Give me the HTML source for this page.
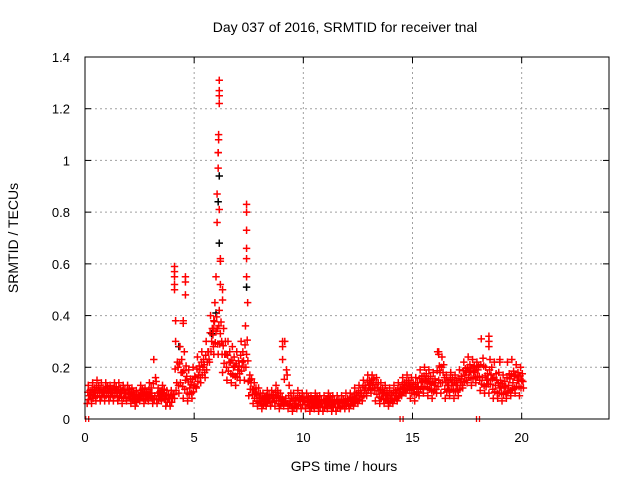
<!DOCTYPE html>
<html><head><meta charset="utf-8"><style>
body{margin:0;background:#fff;}
svg{display:block;font-family:"Liberation Sans",sans-serif;}
</style></head><body>
<svg id="chart" width="640" height="480">
<rect width="640" height="480" fill="#fff"/>
<text x="345" y="32" font-size="14" text-anchor="middle">Day 037 of 2016, SRMTID for receiver tnal</text>
<text x="344" y="471" font-size="14" text-anchor="middle">GPS time / hours</text>
<text transform="translate(18,238) rotate(-90)" font-size="14" text-anchor="middle">SRMTID / TECUs</text>
<g id="grid"></g>
<g id="ticks"></g>
<g id="marks"></g>
<rect x="85" y="57" width="524" height="362" fill="none" stroke="#000" stroke-width="1"/>
</svg>
<script>
const xTicks=[0,5,10,15,20];
const yTicks=[0,0.2,0.4,0.6,0.8,1,1.2,1.4];
const yTickLabels=["0","0.2","0.4","0.6","0.8","1","1.2","1.4"];
const bandMid=[0.09,0.10,0.11,0.10,0.11,0.10,0.11,0.10,0.10,0.10,
0.09,0.08,0.10,0.09,0.10,0.09,0.09,0.10,0.08,0.08,
0.14,0.18,0.15,0.12,0.13,0.17,0.20,0.22,0.30,0.34,
0.33,0.25,0.22,0.20,0.19,0.22,0.25,0.14,0.10,0.08,
0.07,0.08,0.08,0.09,0.07,0.08,0.07,0.06,0.07,0.07,
0.07,0.06,0.07,0.06,0.06,0.07,0.06,0.06,0.06,0.06,
0.07,0.08,0.09,0.11,0.13,0.14,0.12,0.10,0.09,0.08,
0.09,0.10,0.12,0.13,0.12,0.12,0.14,0.15,0.14,0.13,
0.15,0.18,0.13,0.14,0.13,0.14,0.17,0.18,0.18,0.19,
0.16,0.15,0.17,0.13,0.12,0.12,0.13,0.14,0.15,0.15];
const bandLo=[0.06,0.06,0.07,0.07,0.07,0.07,0.07,0.07,0.06,0.07,
0.06,0.05,0.07,0.06,0.07,0.06,0.06,0.07,0.05,0.05,
0.08,0.10,0.08,0.07,0.08,0.12,0.14,0.16,0.22,0.25,
0.25,0.18,0.15,0.14,0.13,0.15,0.15,0.09,0.06,0.05,
0.04,0.05,0.05,0.05,0.04,0.05,0.04,0.03,0.04,0.04,
0.04,0.03,0.04,0.03,0.03,0.04,0.03,0.03,0.04,0.04,
0.04,0.05,0.06,0.07,0.09,0.10,0.07,0.06,0.06,0.05,
0.06,0.07,0.09,0.10,0.08,0.07,0.09,0.10,0.09,0.08,
0.10,0.10,0.08,0.09,0.08,0.09,0.12,0.14,0.13,0.14,
0.11,0.10,0.10,0.08,0.08,0.07,0.08,0.09,0.10,0.09];
const bandHi=[0.13,0.14,0.15,0.14,0.14,0.13,0.14,0.14,0.13,0.13,
0.12,0.11,0.13,0.12,0.14,0.23,0.12,0.13,0.11,0.11,
0.30,0.28,0.26,0.19,0.20,0.24,0.26,0.30,0.40,0.45,
0.42,0.35,0.30,0.28,0.26,0.30,0.36,0.17,0.14,0.12,
0.10,0.11,0.11,0.13,0.10,0.30,0.13,0.10,0.11,0.10,
0.10,0.09,0.10,0.09,0.09,0.10,0.09,0.09,0.09,0.10,
0.10,0.12,0.13,0.15,0.17,0.17,0.16,0.14,0.13,0.12,
0.13,0.14,0.16,0.17,0.16,0.16,0.19,0.20,0.19,0.18,
0.26,0.24,0.17,0.18,0.17,0.19,0.22,0.24,0.23,0.22,
0.31,0.20,0.23,0.22,0.18,0.17,0.22,0.23,0.21,0.20];
const spikeTimes=[4.1,4.1,4.1,4.1,4.1,4.15,4.5,4.5,4.6,4.6,4.6,5.9,5.9,6.0,6.05,6.05,6.1,6.1,6.1,6.12,6.12,6.15,6.15,6.15,6.15,6.15,6.2,6.2,6.2,6.3,6.3,7.4,7.4,7.4,7.4,7.4,7.4,7.45,9.05,9.05,9.05,16.2,16.2,18.5,18.5,18.5,19.0,19.0];
const spikeValues=[0.59,0.57,0.55,0.52,0.50,0.38,0.38,0.37,0.55,0.53,0.48,0.38,0.35,0.55,0.76,0.87,1.03,1.03,0.97,1.10,1.08,1.31,1.27,1.25,1.22,0.81,0.62,0.61,0.52,0.50,0.46,0.83,0.80,0.73,0.66,0.62,0.55,0.45,0.30,0.28,0.23,0.26,0.25,0.32,0.30,0.28,0.23,0.22];
const zeroTimes=[0.1,14.5,18.0];
const blackTimes=[6.1,6.15,6.15,7.4,6.0,5.8,4.3];
const blackValues=[0.84,0.68,0.94,0.51,0.41,0.33,0.28];

const X=t=>85+t*(524/24);
const Y=v=>419-v*(362/1.4);
const NS="http://www.w3.org/2000/svg";
const grid=document.getElementById('grid'),ticks=document.getElementById('ticks'),marks=document.getElementById('marks');
function mk(tag,attrs,parent){const e=document.createElementNS(NS,tag);for(const k in attrs)e.setAttribute(k,attrs[k]);parent.appendChild(e);return e;}
xTicks.forEach(t=>{
  const x=X(t);
  if(t>0){const g=mk('line',{x1:x,x2:x,y1:57,y2:419,stroke:'#a0a0a0','stroke-dasharray':'2,3'},grid);
  
  }
  mk('line',{x1:x,x2:x,y1:419,y2:413,stroke:'#000'},ticks);
  mk('line',{x1:x,x2:x,y1:57,y2:63,stroke:'#000'},ticks);
  const l=mk('text',{x:x,y:442,'font-size':13,'text-anchor':'middle'},ticks);l.textContent=t;
  
  
});
yTicks.forEach((v,i)=>{
  const y=Y(v);
  if(v>0&&v<1.4){const g=mk('line',{x1:85,x2:609,y1:y,y2:y,stroke:'#a0a0a0','stroke-dasharray':'2,3'},grid);
  
  }
  mk('line',{x1:85,x2:91,y1:y,y2:y,stroke:'#000'},ticks);
  mk('line',{x1:609,x2:603,y1:y,y2:y,stroke:'#000'},ticks);
  const l=mk('text',{x:70,y:y+5,'font-size':13,'text-anchor':'end'},ticks);l.textContent=yTickLabels[i];
  
  
});
function plus(t,v,color){
  const x=X(t),y=Y(v);
  const p=mk('path',{d:`M${x-3.7} ${y}h7.4M${x} ${y-3.7}v7.4`,stroke:color,'stroke-width':1.5,fill:'none'},marks);
  
  
}
blackTimes.forEach((t,i)=>plus(t,blackValues[i],'#000'));
bandMid.forEach((v,i)=>{
  const t=0.1+i*0.2;
  const n=Math.min(i+1,bandMid.length-1);
  plus(t,bandLo[i],'#f00');
  plus(t+0.07,(bandLo[i]+bandMid[i])/2,'#f00');
  plus(t+0.1,bandMid[i],'#f00');
  plus(t+0.13,(bandMid[i]+bandHi[i])/2,'#f00');
  plus(t+0.05,bandHi[i],'#f00');
  plus(t+0.16,(bandHi[i]+bandLo[n])/2,'#f00');
  plus(t+0.18,(bandLo[i]+bandMid[n])/2,'#f00');
  plus(t+0.03,(bandMid[i]*2+bandHi[i])/3,'#f00');
});
spikeTimes.forEach((t,i)=>plus(t,spikeValues[i],'#f00'));
zeroTimes.forEach(t=>{
  const x=X(t);
  const p=mk('path',{d:`M${x-1.5} 416v6M${x+1.5} 416v6`,stroke:'#f00','stroke-width':1.3},marks);
  
  
});
</script>
</body></html>
